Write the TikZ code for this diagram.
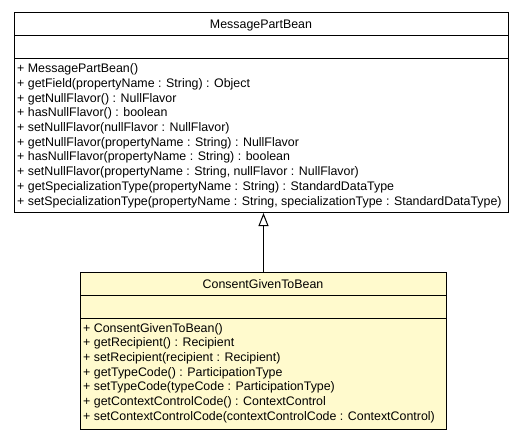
\documentclass[tikz,border=0pt]{standalone}
\usepackage{fontspec}
\setmainfont{Liberation Sans}
\usetikzlibrary{arrows.meta}
\definecolor{classfill}{RGB}{255,250,205}
\tikzset{
  classbox/.style={draw=black, line width=1pt, inner sep=0pt, anchor=north west},
  nametext/.style={anchor=base, inner sep=0pt, font=\fontsize{12.4}{14}\selectfont},
  optext/.style={anchor=base west, inner sep=0pt, font=\fontsize{12.4}{14}\selectfont},
  genarrow/.style={line width=1pt, -{Triangle[open, length=13pt, width=10pt, line width=1pt]}}
}
\begin{document}
\begin{tikzpicture}[x=1pt, y=-1pt]
\useasboundingbox (0,0) rectangle (525,440);
% superclass
\node[classbox, fill=white, minimum width=494pt, minimum height=200pt] (top) at (14,12) {};
\draw[line width=1pt] ([yshift=-23pt]top.north west) -- ([yshift=-23pt]top.north east);
\draw[line width=1pt] ([yshift=-46pt]top.north west) -- ([yshift=-46pt]top.north east);
\node[nametext] (topname) at (261,28) {MessagePartBean};
\foreach \t [count=\i] in {
  {+ MessagePartBean()},
  {+ getField(propertyName : String) : Object},
  {+ getNullFlavor() : NullFlavor},
  {+ hasNullFlavor() : boolean},
  {+ setNullFlavor(nullFlavor : NullFlavor)},
  {+ getNullFlavor(propertyName : String) : NullFlavor},
  {+ hasNullFlavor(propertyName : String) : boolean},
  {+ setNullFlavor(propertyName : String, nullFlavor : NullFlavor)},
  {+ getSpecializationType(propertyName : String) : StandardDataType},
  {+ setSpecializationType(propertyName : String, specializationType : StandardDataType)}
}{
  \node[optext] (topop\i) at (17, {72.7+14.7*(\i-1)}) {\t};
}
% subclass
\node[classbox, fill=classfill, minimum width=366pt, minimum height=157pt] (bot) at (80,272) {};
\draw[line width=1pt] ([yshift=-23pt]bot.north west) -- ([yshift=-23pt]bot.north east);
\draw[line width=1pt] ([yshift=-46pt]bot.north west) -- ([yshift=-46pt]bot.north east);
\node[nametext] (botname) at (263,288) {ConsentGivenToBean};
\foreach \t [count=\i] in {
  {+ ConsentGivenToBean()},
  {+ getRecipient() : Recipient},
  {+ setRecipient(recipient : Recipient)},
  {+ getTypeCode() : ParticipationType},
  {+ setTypeCode(typeCode : ParticipationType)},
  {+ getContextControlCode() : ContextControl},
  {+ setContextControlCode(contextControlCode : ContextControl)}
}{
  \node[optext] (botop\i) at (83, {332+14.7*(\i-1)}) {\t};
}
% generalization
\draw[genarrow] (bot.north) -- (bot.north |- top.south);
\end{tikzpicture}
\end{document}
